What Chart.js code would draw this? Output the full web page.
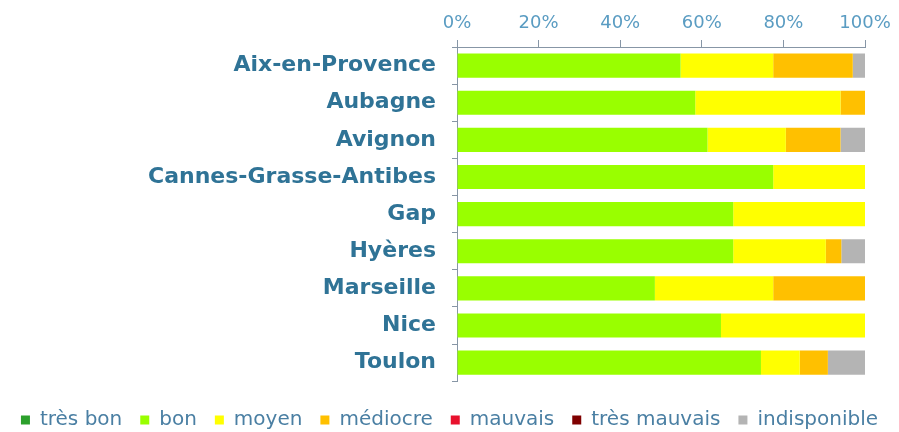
<!DOCTYPE html>
<html lang="fr">
<head>
<meta charset="UTF-8">
<title>Qualité de l'air</title>
<script src="https://cdn.jsdelivr.net/npm/chart.js"></script>
<style>
  html, body { margin: 0; padding: 0; background: #fff; }
  #wrap { width: 899px; height: 432px; }
</style>
</head>
<body>
<div id="wrap"><canvas id="chart"></canvas></div>
<script>
const villes = ['Aix-en-Provence', 'Aubagne', 'Avignon', 'Cannes-Grasse-Antibes', 'Gap', 'Hyères', 'Marseille', 'Nice', 'Toulon'];

// parts en % de chaque indice
const tresBon      = [0, 0, 0, 0, 0, 0, 0, 0, 0];
const bon          = [54.8, 58.4, 61.4, 77.5, 67.7, 67.7, 48.5, 64.7, 74.5];
const moyen        = [22.7, 35.6, 19.2, 22.5, 32.3, 22.7, 29.0, 35.3, 9.5];
const mediocre     = [19.5, 6.0, 13.4, 0, 0, 3.8, 22.5, 0, 6.9];
const mauvais      = [0, 0, 0, 0, 0, 0, 0, 0, 0];
const tresMauvais  = [0, 0, 0, 0, 0, 0, 0, 0, 0];
const indisponible = [3.0, 0, 6.0, 0, 0, 5.8, 0, 0, 9.1];

const xTicks = [0, 20, 40, 60, 80, 100];

const series = [
  { label: 'très bon', data: tresBon, color: '#2ca02c' },
  { label: 'bon', data: bon, color: '#99ff00' },
  { label: 'moyen', data: moyen, color: '#ffff00' },
  { label: 'médiocre', data: mediocre, color: '#ffc000' },
  { label: 'mauvais', data: mauvais, color: '#e8112d' },
  { label: 'très mauvais', data: tresMauvais, color: '#7f0000' },
  { label: 'indisponible', data: indisponible, color: '#b4b4b4' }
];

const axisColor = '#8796a6';

new Chart(document.getElementById('chart'), {
  type: 'bar',
  data: {
    labels: villes,
    datasets: series.map(s => ({
      label: s.label,
      data: s.data,
      backgroundColor: s.color,
      borderWidth: 0,
      categoryPercentage: 1,
      barPercentage: 0.65
    }))
  },
  options: {
    indexAxis: 'y',
    responsive: true,
    maintainAspectRatio: false,
    animation: false,
    layout: { padding: { top: 8, right: 0, bottom: -8, left: 0 } },
    scales: {
      x: {
        position: 'top',
        stacked: true,
        min: 0,
        max: 100,
        afterBuildTicks: scale => { scale.ticks = xTicks.map(v => ({ value: v })); },
        afterFit: scale => { scale.height = 39; },
        ticks: {
          callback: v => v + '%',
          color: '#5a9cc2',
          font: { family: 'DejaVu Sans', size: 18 },
          padding: 6,
          maxRotation: 0
        },
        grid: { drawOnChartArea: false, drawTicks: true, tickLength: 7, color: axisColor },
        border: { display: true, color: axisColor, width: 1 }
      },
      y: {
        stacked: true,
        afterFit: scale => { scale.width = 457; },
        ticks: {
          color: '#2f7396',
          font: { family: 'DejaVu Sans', size: 22, weight: 'bold' },
          padding: 16
        },
        grid: { drawOnChartArea: false, drawTicks: true, tickLength: 5, color: axisColor, offset: true },
        border: { display: true, color: axisColor, width: 1 }
      },
      // marge droite vide (laisse la légende occuper toute la largeur)
      yMarge: {
        type: 'category',
        position: 'right',
        afterFit: scale => { scale.width = 34; },
        ticks: { display: false },
        grid: { display: false },
        border: { display: false }
      }
    },
    plugins: {
      legend: {
        position: 'bottom',
        title: { display: true, text: '', padding: { top: 6, bottom: 0 }, font: { size: 4 } },
        labels: {
          boxWidth: 9,
          boxHeight: 9,
          padding: 18,
          color: '#4a7fa3',
          font: { family: 'DejaVu Sans', size: 20 }
        }
      },
      tooltip: { enabled: false }
    }
  }
});
</script>
</body>
</html>
